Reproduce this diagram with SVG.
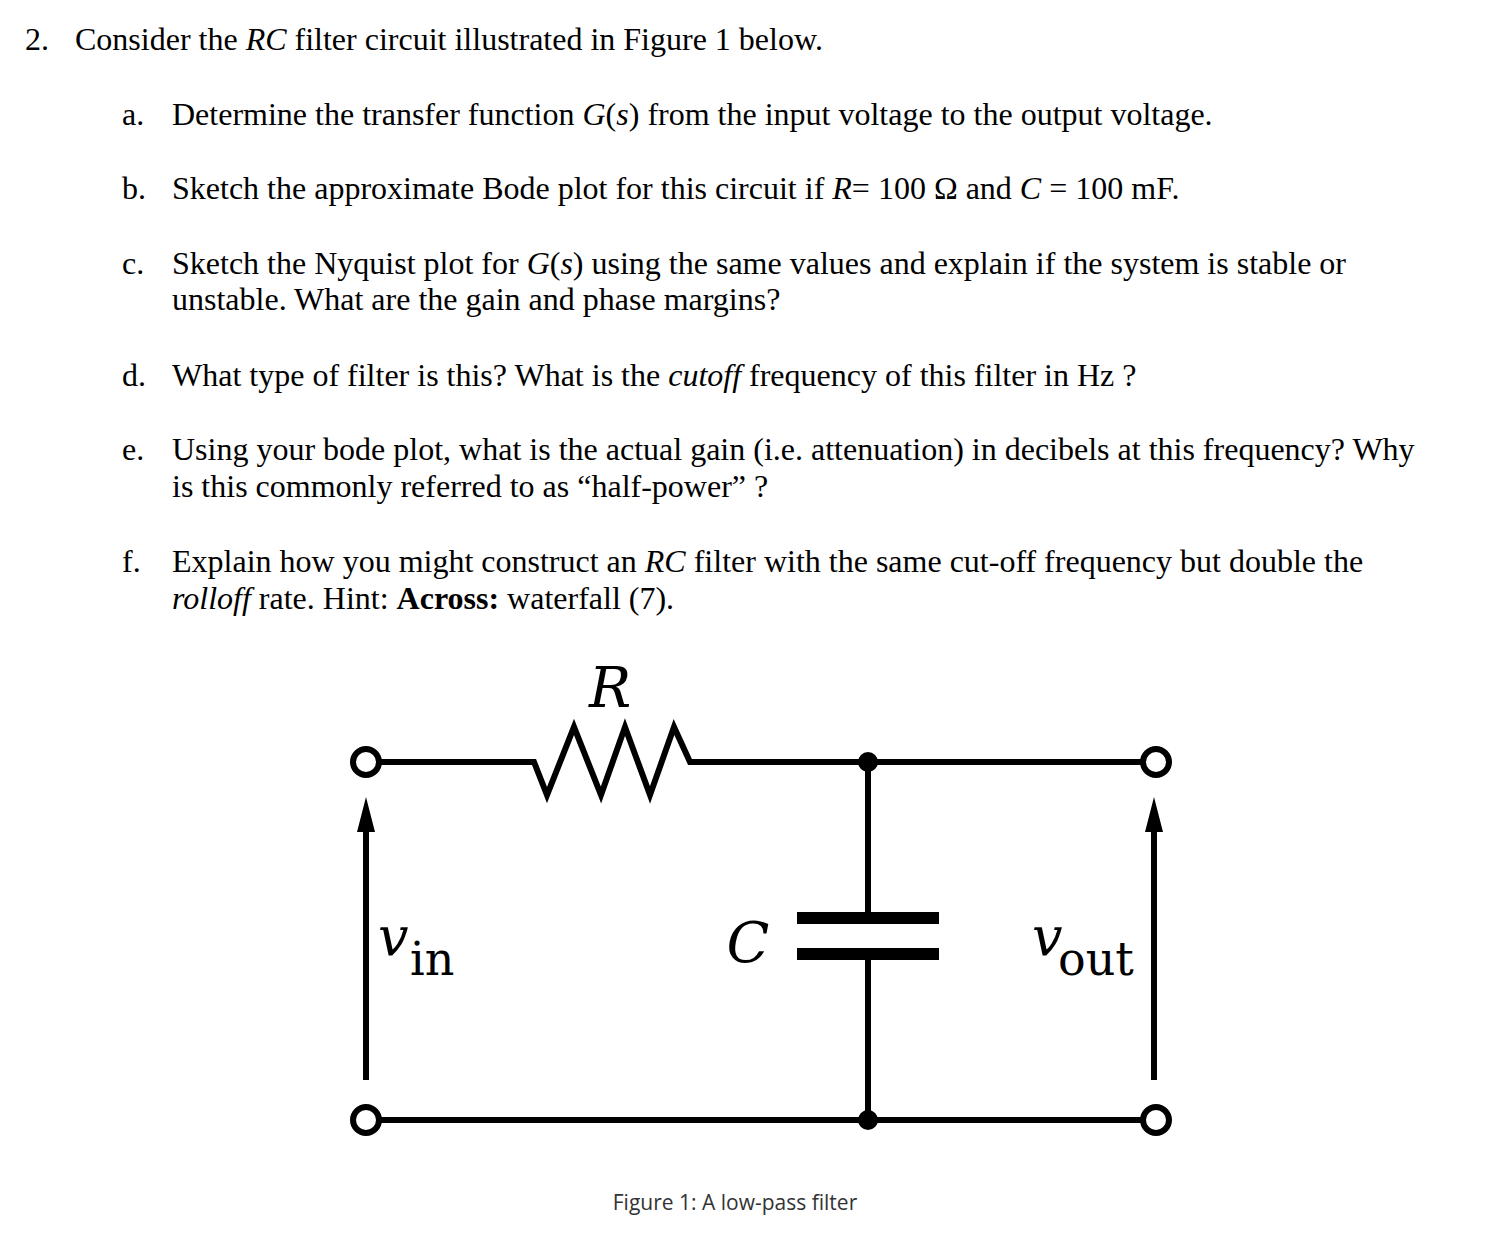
<svg xmlns="http://www.w3.org/2000/svg" width="1486" height="1236" viewBox="0 0 1486 1236">
<style>
.t{font-family:"Liberation Serif",serif;font-size:32px;fill:#000}
.w{stroke:#000;stroke-width:6;fill:none}
.c{font-family:"DejaVu Serif",serif;fill:#000}
</style>
<rect width="1486" height="1236" fill="#fff"/>
<g id="text">
<text class="t" x="25" y="50">2.<tspan x="75">Consider the <tspan font-style="italic">RC</tspan> filter circuit illustrated in Figure 1 below.</tspan></text>
<text class="t" x="122" y="125">a.<tspan x="172">Determine the transfer function <tspan font-style="italic">G</tspan>(<tspan font-style="italic">s</tspan>) from the input voltage to the output voltage.</tspan></text>
<text class="t" x="122" y="199">b.<tspan x="172">Sketch the approximate Bode plot for this circuit if <tspan font-style="italic">R</tspan>= 100 Ω and <tspan font-style="italic">C</tspan> = 100 mF.</tspan></text>
<text class="t" x="122" y="274">c.<tspan x="172">Sketch the Nyquist plot for <tspan font-style="italic">G</tspan>(<tspan font-style="italic">s</tspan>) using the same values and explain if the system is stable or</tspan></text>
<text class="t" x="172" y="310">unstable. What are the gain and phase margins?</text>
<text class="t" x="122" y="386">d.<tspan x="172">What type of filter is this? What is the <tspan font-style="italic">cutoff</tspan> frequency of this filter in Hz ?</tspan></text>
<text class="t" x="122" y="460">e.<tspan x="172">Using your bode plot, what is the actual gain (i.e. attenuation) in decibels at this frequency? Why</tspan></text>
<text class="t" x="172" y="497">is this commonly referred to as “half-power” ?</text>
<text class="t" x="122" y="572">f.<tspan x="172">Explain how you might construct an <tspan font-style="italic">RC</tspan> filter with the same cut-off frequency but double the</tspan></text>
<text class="t" x="172" y="609"><tspan font-style="italic">rolloff</tspan> rate. Hint: <tspan font-weight="bold">Across:</tspan> waterfall (7).</text>
</g>
<g id="connectors">
<path class="w" d="M380,762 H534 L547,795 L574,727 L601,795 L625,727 L650,795 L674,727 L690,762 H1142" stroke-linejoin="miter"/>
<path class="w" d="M380,1120 H1142"/>
<path class="w" d="M868,762 V917 M868,955 V1120"/>
<path class="w" d="M366,1080 V830 M1154,1080 V830"/>
<path d="M357,832 L366,797 L375,832Z M1145,832 L1154,797 L1163,832Z"/>
</g>
<g id="R"><text class="c" x="610" y="707" font-size="56" font-style="italic" text-anchor="middle">R</text></g>
<g id="C"><rect x="797" y="912" width="142" height="12"/><rect x="797" y="948" width="142" height="12"/>
<text class="c" x="748" y="962" font-size="56" font-style="italic" text-anchor="middle">C</text></g>
<g id="terminals" fill="#fff" stroke="#000" stroke-width="6">
<circle cx="366" cy="762" r="13"/><circle cx="1156" cy="762" r="13"/>
<circle cx="366" cy="1120" r="13"/><circle cx="1156" cy="1120" r="13"/>
</g>
<g id="junctions"><circle cx="868" cy="762" r="10"/><circle cx="868" cy="1120" r="10"/></g>
<g id="vin"><text class="c" x="378" y="955" font-size="54" font-style="italic">v</text><text class="c" x="410" y="975" font-size="46">in</text></g>
<g id="vout"><text class="c" x="1032" y="955" font-size="54" font-style="italic">v</text><text class="c" x="1058" y="975" font-size="46">out</text></g>
<g id="caption"><text x="735" y="1210" font-family="Open Sans,sans-serif" font-size="21" fill="#333" text-anchor="middle">Figure 1: A low-pass filter</text></g>
</svg>
